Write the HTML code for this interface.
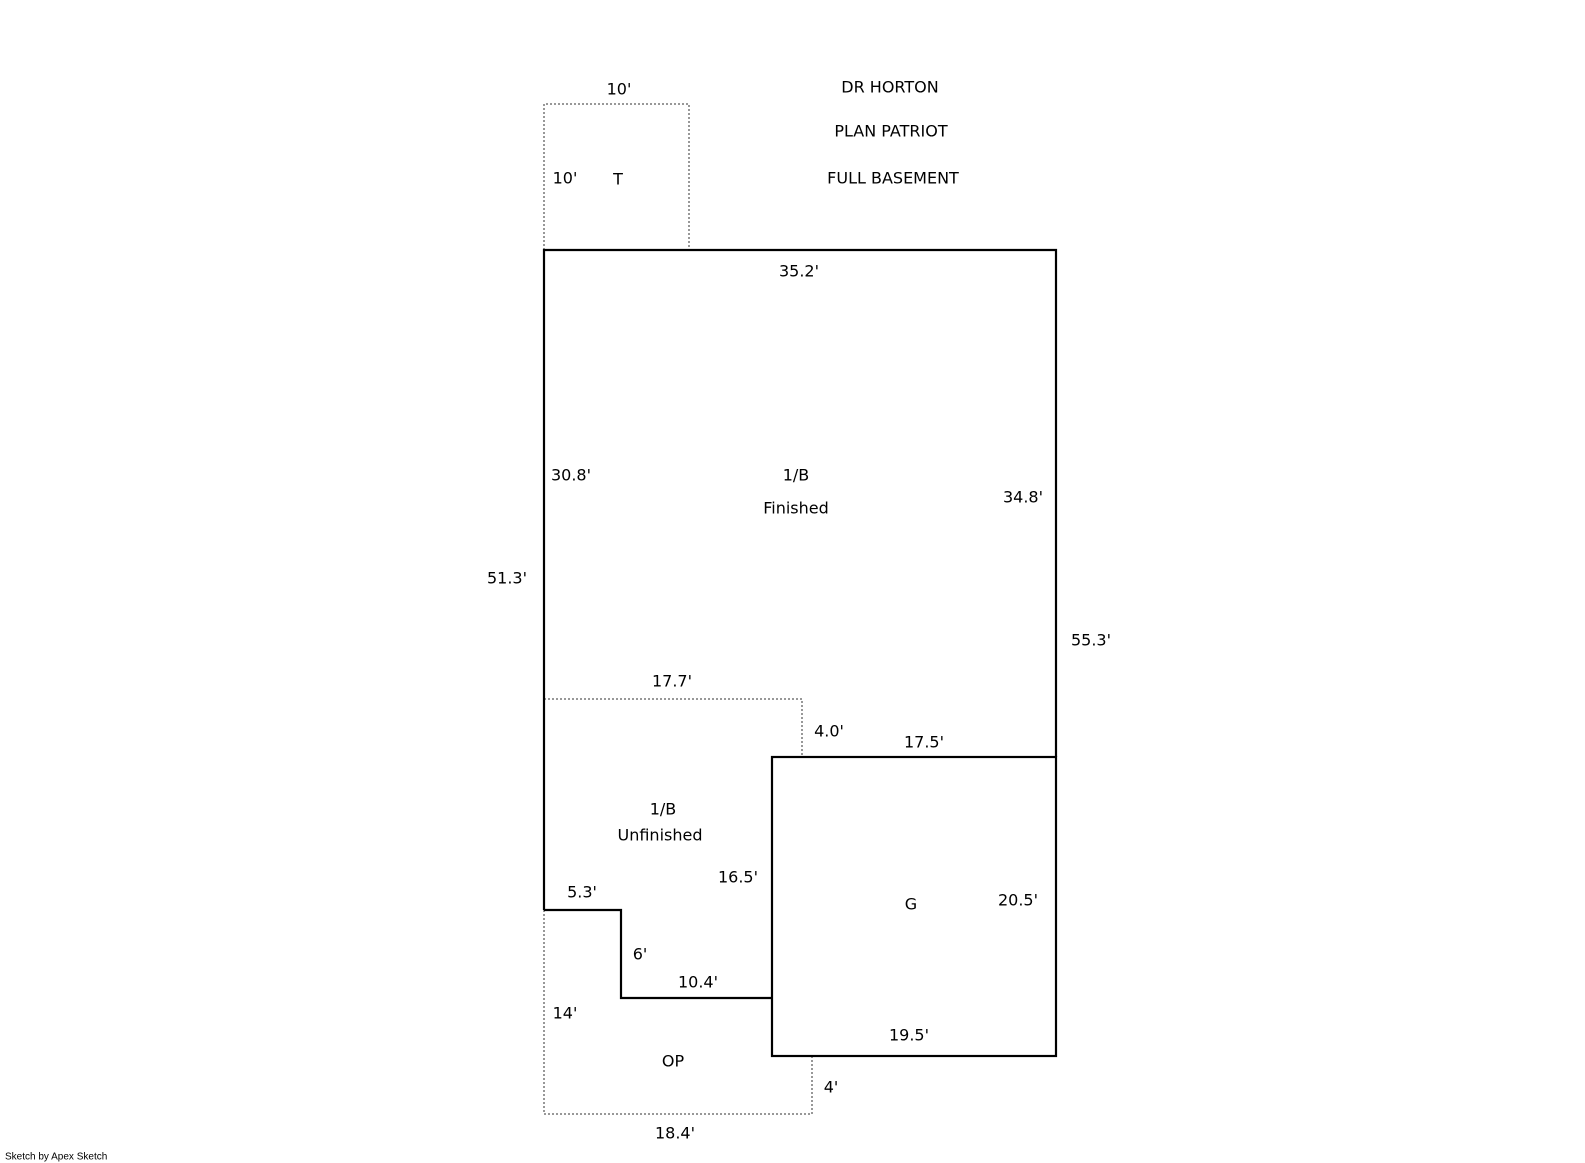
<!DOCTYPE html>
<html><head><meta charset="utf-8"><style>
html,body{margin:0;padding:0;background:#fff;width:1585px;height:1163px;overflow:hidden}
svg text{font-family:"DejaVu Sans","Liberation Sans",sans-serif;font-size:16px;fill:#000;text-anchor:middle;dominant-baseline:central}
</style></head><body>
<svg width="1585" height="1163" viewBox="0 0 1585 1163" xmlns="http://www.w3.org/2000/svg">
<g fill="none" stroke="#777" stroke-width="1.5" stroke-dasharray="2,2">
<polyline points="544,250 544,104 689,104 689,250"/>
<polyline points="544,699 802,699 802,757"/>
<polyline points="544,910 544,1114 812,1114 812,1056"/>
</g>
<g fill="none" stroke="#000" stroke-width="2.2">
<polyline points="544,910 544,250 1056,250 1056,757"/>
<rect x="772" y="757" width="284" height="299"/>
<polyline points="544,910 621,910 621,998 772,998"/>
</g>
<text x="619" y="89">10'</text>
<text x="890" y="87">DR HORTON</text>
<text x="891" y="131">PLAN PATRIOT</text>
<text x="893" y="178">FULL BASEMENT</text>
<text x="565" y="178">10'</text>
<text x="618" y="179">T</text>
<text x="799" y="271">35.2'</text>
<text x="571" y="475">30.8'</text>
<text x="796" y="475">1/B</text>
<text x="796" y="508">Finished</text>
<text x="1023" y="497">34.8'</text>
<text x="507" y="578">51.3'</text>
<text x="1091" y="640">55.3'</text>
<text x="672" y="681">17.7'</text>
<text x="829" y="731">4.0'</text>
<text x="924" y="742">17.5'</text>
<text x="663" y="809">1/B</text>
<text x="660" y="835">Unfinished</text>
<text x="738" y="877">16.5'</text>
<text x="911" y="904">G</text>
<text x="1018" y="900">20.5'</text>
<text x="582" y="892">5.3'</text>
<text x="640" y="954">6'</text>
<text x="698" y="982">10.4'</text>
<text x="565" y="1013">14'</text>
<text x="673" y="1061">OP</text>
<text x="909" y="1035">19.5'</text>
<text x="831" y="1087">4'</text>
<text x="675" y="1133">18.4'</text>
<text x="5" y="1157" style="font-size:10px;text-anchor:start;font-family:'Liberation Sans',sans-serif">Sketch by Apex Sketch</text>
</svg>
</body></html>
